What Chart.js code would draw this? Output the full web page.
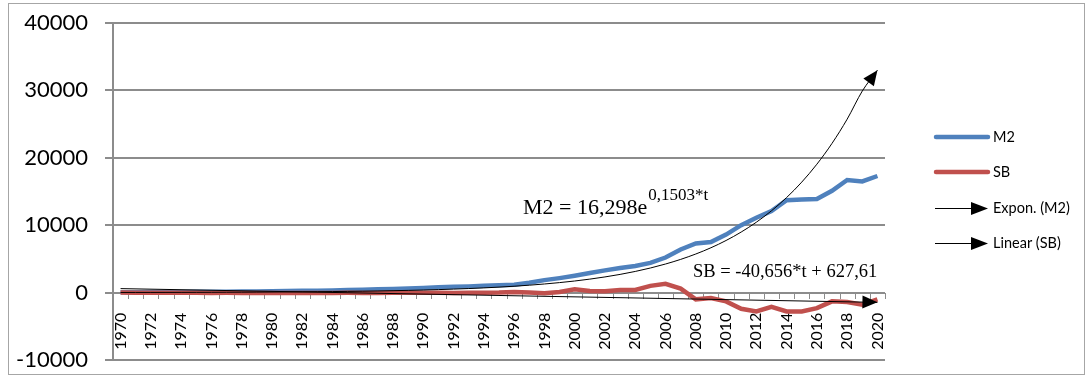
<!DOCTYPE html>
<html lang="en">
<head>
<meta charset="UTF-8">
<title>M2 and SB, 1970-2020</title>
<style>
    body {
        margin: 0;
        background: #fff;
    }

    #wrap {
        width: 1086px;
        height: 377px;
    }
</style>
</head>
<body>
<div id="wrap">
    <canvas id="chart" width="1086" height="377"></canvas>
</div>

<script src="https://cdn.jsdelivr.net/npm/chart.js"></script>
<script>
    // data
    const years = ['1970', '1971', '1972', '1973', '1974', '1975', '1976', '1977', '1978', '1979',
        '1980', '1981', '1982', '1983', '1984', '1985', '1986', '1987', '1988', '1989',
        '1990', '1991', '1992', '1993', '1994', '1995', '1996', '1997', '1998', '1999',
        '2000', '2001', '2002', '2003', '2004', '2005', '2006', '2007', '2008', '2009',
        '2010', '2011', '2012', '2013', '2014', '2015', '2016', '2017', '2018', '2019', '2020'];

    const m2 = [60, 70, 80, 90, 100, 110, 120, 140, 160, 180,
        200, 230, 260, 290, 330, 370, 420, 480, 540, 600,
        700, 780, 850, 920, 1000, 1080, 1180, 1450, 1850, 2150,
        2500, 2900, 3300, 3650, 3950, 4400, 5200, 6400, 7300, 7500,
        8600, 10000, 11100, 12100, 13700, 13800, 13900, 15100, 16700, 16500, 17300];

    const sb = [0, -20, -30, -40, -30, -40, -50, -40, -50, -60,
        -50, -60, -70, -60, -50, -40, -50, -60, -40, -30,
        -20, -40, -50, -30, -20, 0, 100, 0, -100, 100,
        500, 250, 200, 400, 400, 1000, 1300, 600, -1000, -800,
        -1300, -2400, -2800, -2100, -2800, -2800, -2300, -1300, -1400, -1800, -1000];

    // trend lines as drawn in the picture
    const m2Trend = [19, 22, 25, 30, 35, 40, 47, 55, 63, 73,
        85, 99, 115, 134, 156, 181, 210, 244, 284, 330,
        383, 445, 518, 602, 699, 813, 945, 1098, 1276, 1483,
        1720, 2000, 2324, 2701, 3139, 3648, 4240, 4927, 5727, 6652,
        7731, 8985, 10442, 12136, 14104, 16392, 19051, 22141, 25732, 29906, 33000];

    const sbTrend = [590, null, null, null, null, null, null, null, null, null,
        null, null, null, null, null, null, null, null, null, null,
        null, null, null, null, null, null, null, null, null, null,
        null, null, null, null, null, null, null, null, null, null,
        null, null, null, null, null, null, null, null, null, null, -1450];

    const yTicks = [-10000, 0, 10000, 20000, 30000, 40000];

    const seriesNames = ['M2', 'SB', 'Expon. (M2)', 'Linear (SB)'];
    const blue = '#4F81BD';
    const red = '#C0504D';
    const gridGray = '#8c8c8c';
    const clear = 'rgba(0,0,0,0)';

    function arrowHead(ctx, x0, y0, x1, y1, len, half) {
        const a = Math.atan2(y1 - y0, x1 - x0);
        ctx.save();
        ctx.translate(x1, y1);
        ctx.rotate(a);
        ctx.beginPath();
        ctx.moveTo(0, 0);
        ctx.lineTo(-len, -half);
        ctx.lineTo(-len, half);
        ctx.closePath();
        ctx.fillStyle = '#000';
        ctx.fill();
        ctx.restore();
    }

    function line(ctx, x1, y1, x2, y2) {
        ctx.beginPath();
        ctx.moveTo(x1, y1);
        ctx.lineTo(x2, y2);
        ctx.stroke();
    }

    // pixel row of a y value on the value axis
    function yRow(chart, v) {
        const a = chart.chartArea;
        const lo = yTicks[0];
        const hi = yTicks[yTicks.length - 1];
        return Math.round(a.bottom - (v - lo) / (hi - lo) * (a.bottom - a.top));
    }

    const extras = {
        id: 'extras',
        beforeDatasetsDraw(chart) {
            // gridlines, axis line and tick marks
            const ctx = chart.ctx;
            const area = chart.chartArea;
            const xs = chart.scales.x;
            const left = Math.round(area.left);
            const right = Math.round(area.right);
            ctx.save();
            ctx.globalAlpha = 1;
            ctx.globalCompositeOperation = 'source-over';
            ctx.fillStyle = gridGray;
            yTicks.forEach(v => {
                const py = yRow(chart, v);
                ctx.fillRect(left - 8, py - 1, right - left + 8, 2);
            });
            ctx.fillRect(left - 1, Math.round(area.top) - 1, 2, Math.round(area.bottom - area.top) + 2);

            const zero = yRow(chart, 0);
            const step = xs.getPixelForValue(1) - xs.getPixelForValue(0);
            for (let i = 0; i <= years.length; i++) {
                const px = Math.round(xs.getPixelForValue(i) - step / 2);
                ctx.fillRect(px, zero, 1, 6);
            }
            ctx.restore();
        },
        afterDatasetsDraw(chart) {
            const ctx = chart.ctx;
            // arrow at the end of each trend line
            [2, 3].forEach(i => {
                const pts = chart.getDatasetMeta(i).data;
                const shown = pts.filter(p => !p.skip);
                const a = shown[shown.length - 2];
                const b = shown[shown.length - 1];
                arrowHead(ctx, a.x, a.y, b.x, b.y, 15, 6.5);
            });
        },
        afterDraw(chart) {
            const ctx = chart.ctx;
            ctx.save();

            // outer frame
            ctx.strokeStyle = '#a6a6a6';
            ctx.lineWidth = 1;
            ctx.strokeRect(8.5, 3.5, 1076, 371);

            // trendline equations
            ctx.fillStyle = '#000';
            ctx.textBaseline = 'alphabetic';
            ctx.textAlign = 'left';
            ctx.font = '22px "Liberation Serif"';
            const base = 'M2 = 16,298e';
            ctx.fillText(base, 523, 214);
            const w = ctx.measureText(base).width;
            ctx.font = '17px "Liberation Serif"';
            ctx.fillText('0,1503*t', 523 + w + 1, 200);

            ctx.font = '18.5px "Liberation Serif"';
            ctx.fillText('SB = -40,656*t + 627,61', 693, 277);

            // legend
            const rows = [137, 172, 208, 243];
            ctx.font = '14.5px Lato';
            ctx.textBaseline = 'middle';
            rows.forEach((y, i) => {
                if (i < 2) {
                    ctx.strokeStyle = i === 0 ? blue : red;
                    ctx.lineWidth = 4.5;
                    ctx.lineCap = 'round';
                    line(ctx, 936, y, 988, y);
                } else {
                    ctx.strokeStyle = '#000';
                    ctx.lineWidth = 1;
                    ctx.lineCap = 'butt';
                    line(ctx, 935, y + 0.5, 980, y + 0.5);
                    arrowHead(ctx, 935, y + 0.5, 988, y + 0.5, 17, 6.5);
                }
                ctx.fillStyle = '#000';
                ctx.fillText(seriesNames[i], 993, y);
            });

            ctx.restore();
        }
    };

    const chart = new Chart(document.getElementById('chart'), {
        type: 'line',
        data: {
            labels: years,
            datasets: [{
                label: seriesNames[0],
                data: m2,
                borderColor: blue,
                borderWidth: 4.5,
                pointRadius: 0,
                fill: false,
                order: 2
            }, {
                label: seriesNames[1],
                data: sb,
                borderColor: red,
                borderWidth: 4.5,
                pointRadius: 0,
                fill: false,
                order: 1
            }, {
                label: seriesNames[2],
                data: m2Trend,
                borderColor: '#000',
                borderWidth: 1,
                pointRadius: 0,
                fill: false,
                cubicInterpolationMode: 'monotone',
                order: 0
            }, {
                label: seriesNames[3],
                data: sbTrend,
                borderColor: '#000',
                borderWidth: 1,
                pointRadius: 0,
                fill: false,
                spanGaps: true,
                order: 0
            }]
        },
        options: {
            responsive: false,
            animation: false,
            events: [],
            layout: {
                padding: { left: 0, top: 23, right: 201, bottom: 17 }
            },
            plugins: {
                legend: { display: false },
                tooltip: { enabled: false }
            },
            scales: {
                x: {
                    position: { y: 0 },
                    offset: true,
                    afterFit: scale => {
                        scale.height = 0;
                    },
                    grid: { drawOnChartArea: false, tickLength: 5, color: clear },
                    border: { display: false },
                    ticks: {
                        autoSkip: false,
                        minRotation: 90,
                        maxRotation: 90,
                        padding: 15,
                        color: '#000',
                        font: { family: 'Lato', size: 16 },
                        callback: function (value, index) {
                            return index % 2 === 0 ? this.getLabelForValue(value) : '';
                        }
                    }
                },
                y: {
                    min: yTicks[0],
                    max: yTicks[yTicks.length - 1],
                    afterFit: scale => {
                        scale.width = 113;
                        scale.paddingTop = 0;
                        scale.paddingBottom = 0;
                    },
                    grid: { tickLength: 8, color: clear },
                    border: { display: false },
                    ticks: {
                        stepSize: 10000,
                        padding: 17,
                        color: '#000',
                        font: { family: 'Lato', size: 22 },
                        callback: v => String(v)
                    }
                }
            }
        },
        plugins: [extras]
    });
</script>
</body>
</html>
